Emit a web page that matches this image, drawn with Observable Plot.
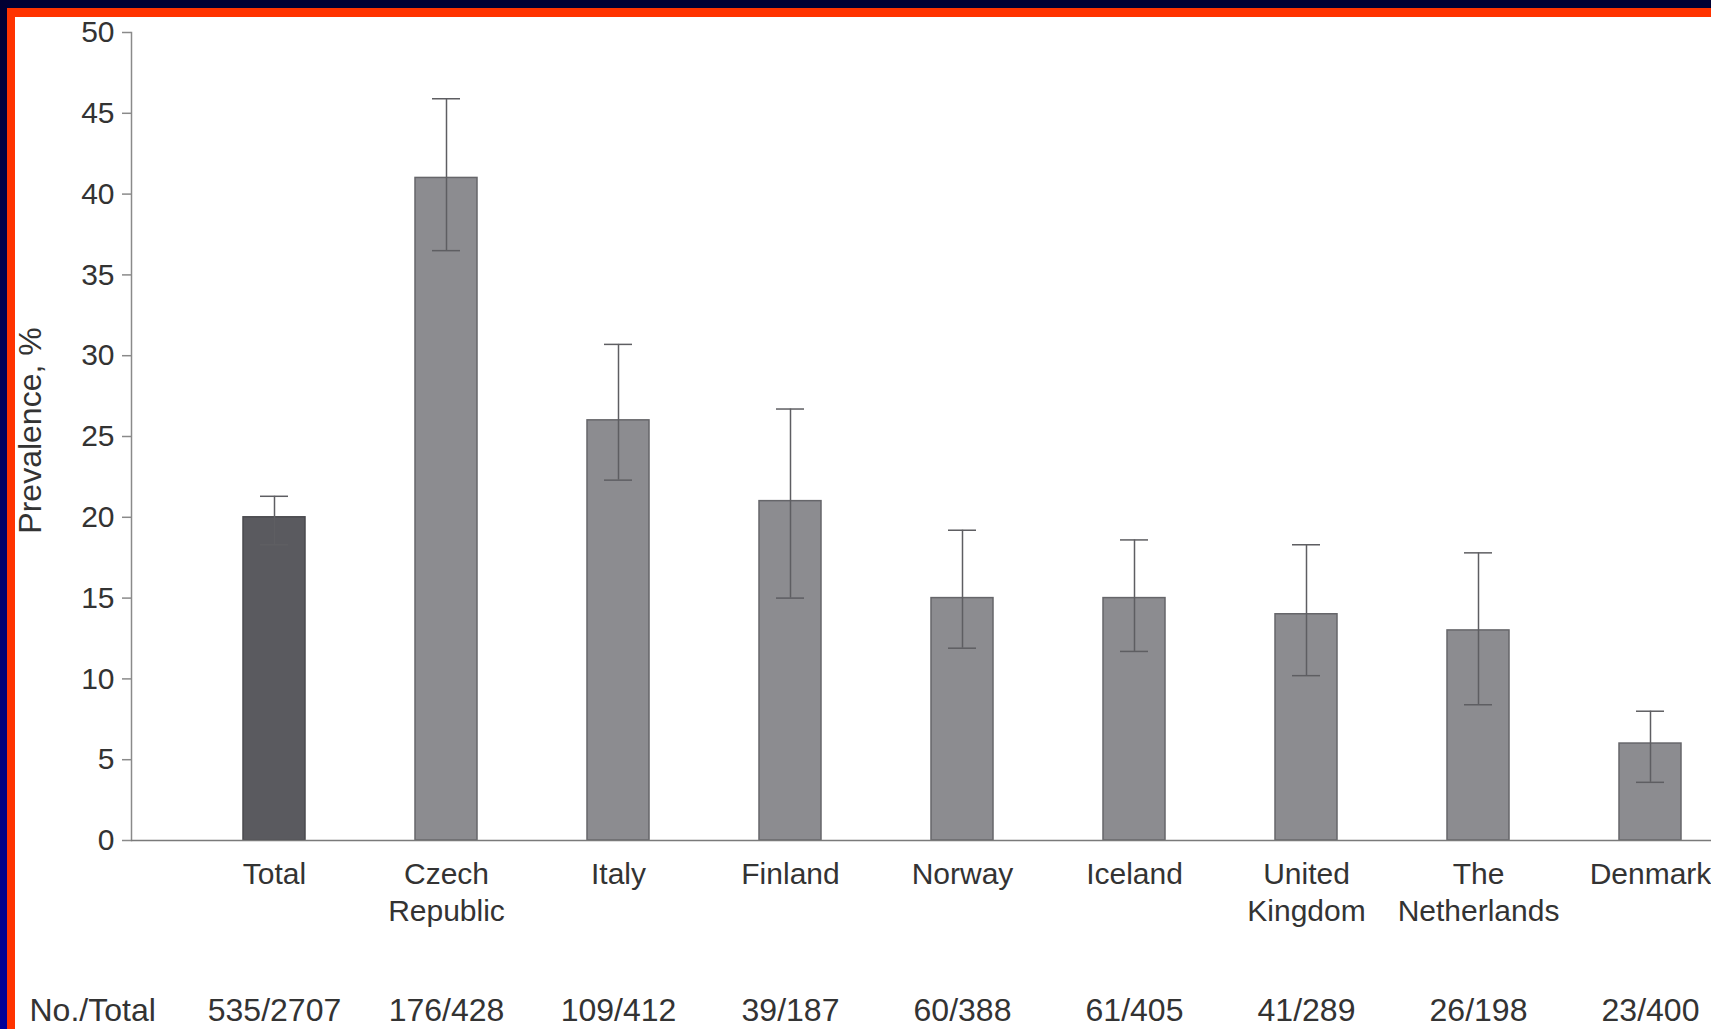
<!DOCTYPE html>
<html>
<head>
<meta charset="utf-8">
<script src="https://cdn.jsdelivr.net/npm/d3@7"></script>
<script src="https://cdn.jsdelivr.net/npm/@observablehq/plot@0.6"></script>
<style>
  html, body {
    margin: 0;
    width: 1711px;
    height: 1029px;
    overflow: hidden;
    background: linear-gradient(#000033, #000099);
  }
  #frame {
    position: absolute;
    left: 7px;
    top: 8px;
    right: 0;
    bottom: 0;
    border-top: 9px solid #ff3300;
    border-left: 8px solid #ff3300;
    background: #ffffff;
  }
  #chart {
    position: absolute;
    left: 0;
    top: 0;
  }
</style>
</head>
<body>
<div id="frame"></div>
<div id="chart"></div>
<script>
// Prevalence by country, with 95% confidence intervals
const countries = ["Total", "Czech Republic", "Italy", "Finland", "Norway", "Iceland", "United Kingdom", "The Netherlands", "Denmark"];
const tickLabels = ["Total", "Czech\nRepublic", "Italy", "Finland", "Norway", "Iceland", "United\nKingdom", "The\nNetherlands", "Denmark"];
const prevalence = [20, 41, 26, 21, 15, 15, 14, 13, 6];
const ciLow = [18.3, 36.5, 22.3, 15.0, 11.9, 11.7, 10.2, 8.4, 3.6];
const ciHigh = [21.3, 45.9, 30.7, 26.7, 19.2, 18.6, 18.3, 17.8, 8.0];
const counts = ["535/2707", "176/428", "109/412", "39/187", "60/388", "61/405", "41/289", "26/198", "23/400"];
const yTicks = [0, 5, 10, 15, 20, 25, 30, 35, 40, 45, 50];

const rows = countries.map((c, i) => ({
  country: c,
  label: tickLabels[i],
  value: prevalence[i],
  lo: ciLow[i],
  hi: ciHigh[i],
  count: counts[i],
  total: i === 0
}));

const textColor = "#333333";
const font = "'Liberation Sans', Arial, Helvetica, sans-serif";

const chart = Plot.plot({
  width: 1711,
  height: 1029,
  marginTop: 32,
  marginBottom: 189,
  marginLeft: 131,
  marginRight: 0,
  style: {fontFamily: font, fontSize: "30px", background: "transparent", color: textColor},
  x: {type: "band", domain: countries, range: [131, 1792], paddingInner: 0.64, paddingOuter: 0.643},
  y: {domain: [0, 50], range: [840, 32]},
  marks: [
    // bars: the pooled total is darker than the individual countries
    Plot.barY(rows, {filter: d => d.total, x: "country", y: "value", fill: "#5a5a5f", stroke: "#4a4a4e", strokeWidth: 1.5}),
    Plot.barY(rows, {filter: d => !d.total, x: "country", y: "value", fill: "#8c8c90", stroke: "#66666a", strokeWidth: 1.5}),
    // confidence interval whiskers
    Plot.ruleX(rows, {x: "country", y1: "lo", y2: "hi", stroke: "#5e5e62", strokeWidth: 1.5}),
    Plot.tickY(rows, {x: "country", y: "hi", stroke: "#5e5e62", strokeWidth: 1.5, insetLeft: 17, insetRight: 17}),
    Plot.tickY(rows, {x: "country", y: "lo", stroke: "#5e5e62", strokeWidth: 1.5, insetLeft: 17, insetRight: 17}),
    // axes
    Plot.frame({anchor: "left", stroke: "#8a8a8a", strokeWidth: 1.5}),
    Plot.ruleY([0], {stroke: "#7a7a7a", strokeWidth: 1.5}),
    Plot.axisY({
      ticks: yTicks,
      tickSize: 9,
      tickPadding: 8,
      stroke: "#8a8a8a",
      strokeWidth: 1.5,
      color: textColor,
      fontSize: 30,
      label: null
    }),
    // y-axis title, rotated and centred on the plot height
    Plot.text(["Prevalence, %"], {frameAnchor: "left", rotate: -90, textAnchor: "middle", lineAnchor: "top", dx: -113, dy: -6, fontSize: 32, fill: textColor}),
    Plot.axisX({
      tickSize: 0,
      tickPadding: 17,
      tickFormat: d => tickLabels[countries.indexOf(d)],
      lineHeight: 1.23,
      fontSize: 30,
      color: textColor,
      label: null
    }),
    // case counts under each category
    Plot.text(rows, {x: "country", text: "count", frameAnchor: "bottom", lineAnchor: "top", dy: 158, fontSize: 32, fill: textColor}),
    Plot.text(["No./Total"], {frameAnchor: "bottom-left", textAnchor: "start", lineAnchor: "top", dx: -102, dy: 158, fontSize: 32, fill: textColor})
  ]
});

document.getElementById("chart").appendChild(chart);
</script>
</body>
</html>
